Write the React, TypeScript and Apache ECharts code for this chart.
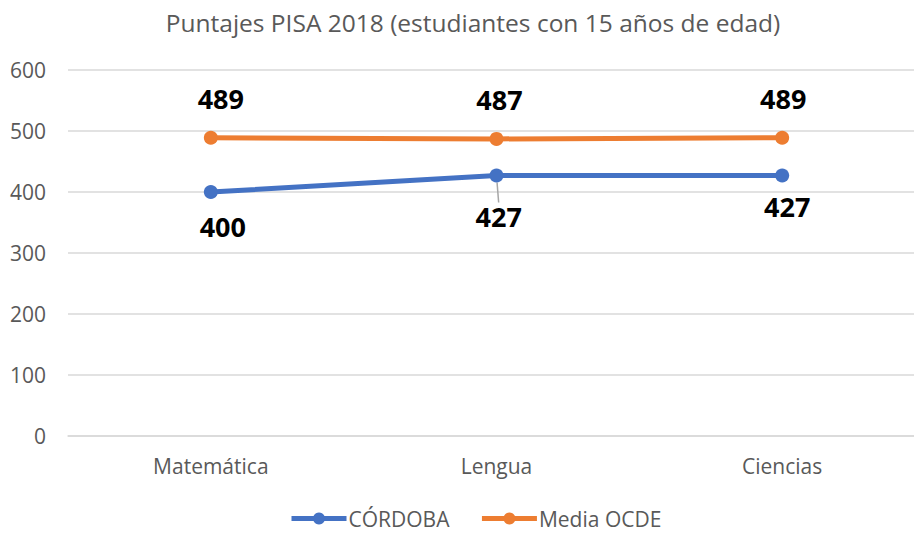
import React, { useEffect, useRef } from "react";
import * as echarts from "echarts";

const TITLE = "Puntajes PISA 2018 (estudiantes con 15 años de edad)";
const categories = ["Matemática", "Lengua", "Ciencias"];
const cordoba = [400, 427, 427];
const ocde = [489, 487, 489];
const seriesNames = ["CÓRDOBA", "Media OCDE"];
const yTicks = { min: 0, max: 600, interval: 100 };

const FONT = "'Open Sans', 'Noto Sans', sans-serif";
const BLUE = "#4472C4";
const ORANGE = "#ED7D31";
const GREY = "#595959";

export default function App() {
  const ref = useRef<HTMLDivElement>(null);
  useEffect(() => {
    if (!ref.current) return;
    const chart = echarts.init(ref.current, null, { renderer: "svg" });
    const labelBase = {
      show: true,
      fontFamily: FONT,
      fontWeight: "bold" as const,
      fontSize: 27,
      color: "#000",
    };
    const blueLabels = [
      { position: "bottom", distance: 14, offset: [12, 0] },
      { position: "bottom", distance: 20, offset: [-21, 0], align: "left" },
      { position: "bottom", distance: 10, offset: [5, 0] },
    ];
    const orangeLabels = [
      { position: "top", distance: 19, offset: [10, 0] },
      { position: "top", distance: 19, offset: [3, 0] },
      { position: "top", distance: 19, offset: [1, 0] },
    ];
    chart.setOption({
      animation: false,
      title: {
        text: TITLE,
        left: 468,
        textAlign: "center",
        top: 5,
        textStyle: { fontFamily: FONT, fontWeight: "normal", fontSize: 24.5, color: GREY },
      },
      legend: {
        bottom: 1,
        left: 284,
        itemWidth: 55,
        itemHeight: 15,
        itemGap: 30,
        lineStyle: { width: 5 },
        textStyle: { fontFamily: FONT, fontSize: 21, color: GREY, padding: [0, 0, 0, -3] },
        data: seriesNames,
      },
      grid: { left: 68, right: 0, top: 70, bottom: 99 },
      xAxis: {
        type: "category",
        data: categories,
        axisLine: { lineStyle: { color: "#D9D9D9", width: 1.5 } },
        axisTick: { show: false },
        axisLabel: { fontFamily: FONT, fontSize: 21, color: GREY, margin: 19 },
      },
      yAxis: {
        type: "value",
        min: yTicks.min,
        max: yTicks.max,
        interval: yTicks.interval,
        axisLine: { show: false },
        axisTick: { show: false },
        splitLine: { lineStyle: { color: "#D9D9D9", width: 1.5 } },
        axisLabel: { fontFamily: FONT, fontSize: 21, color: GREY, margin: 22 },
      },
      series: [
        {
          name: seriesNames[0],
          type: "line",
          data: cordoba.map((v, i) => ({
            value: v,
            label: { ...labelBase, ...blueLabels[i] },
            labelLine: i === 1 ? { show: true, lineStyle: { color: "#A6A6A6", width: 1.5 } } : { show: false },
          })),
          symbol: "circle",
          symbolSize: 14,
          lineStyle: { color: BLUE, width: 5 },
          itemStyle: { color: BLUE },
          label: labelBase,
        },
        {
          name: seriesNames[1],
          type: "line",
          data: ocde.map((v, i) => ({ value: v, label: { ...labelBase, ...orangeLabels[i] } })),
          symbol: "circle",
          symbolSize: 14,
          lineStyle: { color: ORANGE, width: 5 },
          itemStyle: { color: ORANGE },
          label: labelBase,
        },
      ],
    });
    return () => chart.dispose();
  }, []);
  return (
    <div
      style={{ position: "fixed", left: 0, top: 0, width: 914, height: 535, overflow: "hidden", background: "#fff" }}
    >
      <div ref={ref} style={{ width: 925, height: 535 }} />
    </div>
  );
}
